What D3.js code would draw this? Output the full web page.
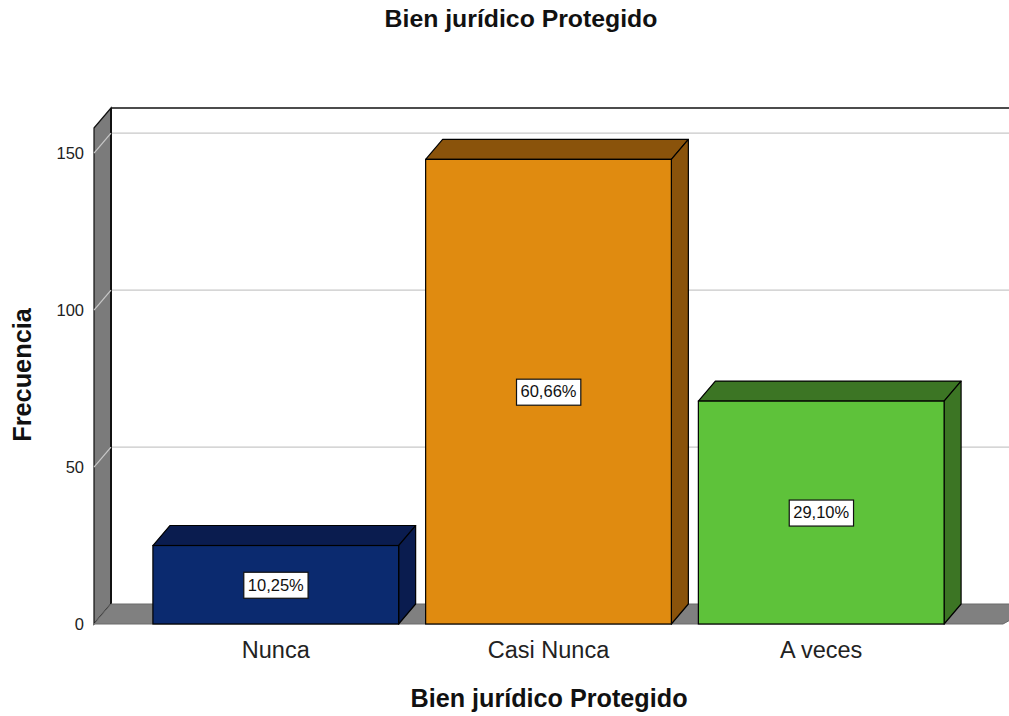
<!DOCTYPE html>
<html>
<head>
<meta charset="utf-8">
<script src="https://cdn.jsdelivr.net/npm/d3@7"></script>
<style>
  html, body { margin: 0; padding: 0; background: #fff; }
  svg { display: block; font-family: "Liberation Sans", Arial, sans-serif; }
</style>
</head>
<body>
<svg id="chart" width="1009" height="716"></svg>
<script>
const categories = ["Nunca", "Casi Nunca", "A veces"];
const counts = [25, 148, 71];
const percentLabels = ["10,25%", "60,66%", "29,10%"];
const yTicks = [0, 50, 100, 150];
const frontColors = ["#0b2a6f", "#e08b10", "#5ec23a"];
const darkColors = ["#0a1c4f", "#8a530b", "#3c7524"];
const chartTitle = "Bien jurídico Protegido";
const xTitle = "Bien jurídico Protegido";
const yTitle = "Frecuencia";

(function () {
const svg = d3.select("#chart");
const W = 1009;
const pLeft = 94, pRight = 1003, pBottom = 624, pTop = 128;
const dx = 17, dy = 20;
const yMax = 158;

const y = d3.scaleLinear().domain([0, yMax]).range([pBottom, pTop]);
const x = d3.scaleBand().domain(categories).range([pLeft, pRight])
  .paddingInner(0.099).paddingOuter(0.216);
const pts = a => a.map(p => p.join(",")).join(" ");

// back wall gridlines
yTicks.filter(t => t > 0).forEach(t => {
  svg.append("line").attr("x1", pLeft + dx).attr("x2", W + 20)
    .attr("y1", y(t) - dy).attr("y2", y(t) - dy)
    .attr("stroke", "#c8c8c8").attr("stroke-width", 1.2);
});

// back wall top line
svg.append("line").attr("x1", pLeft + dx).attr("x2", W + 20)
  .attr("y1", y(yMax) - dy).attr("y2", y(yMax) - dy)
  .attr("stroke", "#111").attr("stroke-width", 1.5);

// left wall
svg.append("polygon")
  .attr("points", pts([[pLeft, y(yMax)], [pLeft + dx, y(yMax) - dy], [pLeft + dx, pBottom - dy], [pLeft, pBottom]]))
  .attr("fill", "#7b7b7b").attr("stroke", "#111").attr("stroke-width", 1.2);
svg.append("line").attr("x1", pLeft + dx).attr("x2", pLeft + dx)
  .attr("y1", y(yMax) - dy).attr("y2", pBottom - dy)
  .attr("stroke", "#111").attr("stroke-width", 2);
yTicks.filter(t => t > 0).forEach(t => {
  svg.append("line").attr("x1", pLeft).attr("x2", pLeft + dx)
    .attr("y1", y(t)).attr("y2", y(t) - dy)
    .attr("stroke", "#c8c8c8").attr("stroke-width", 1.2);
});

// floor
svg.append("polygon")
  .attr("points", pts([[pLeft, pBottom], [pLeft + dx, pBottom - dy], [W + 30, pBottom - dy], [pRight, pBottom]]))
  .attr("fill", "#808080").attr("stroke", "#6a6a6a").attr("stroke-width", 1);

// y tick labels
yTicks.forEach(t => {
  svg.append("text").attr("x", 84).attr("y", y(t)).attr("dy", "0.35em")
    .attr("text-anchor", "end").attr("font-size", 16.5).attr("fill", "#222")
    .text(t);
});

// bars
const bw = x.bandwidth();
categories.forEach((c, i) => {
  const x0 = x(c), x1 = x0 + bw, yt = y(counts[i]), yb = y(0);
  const g = svg.append("g");
  g.append("polygon")
    .attr("points", pts([[x0, yt], [x0 + dx, yt - dy], [x1 + dx, yt - dy], [x1, yt]]))
    .attr("fill", darkColors[i]).attr("stroke", "#000").attr("stroke-width", 1.2).attr("stroke-linejoin", "round");
  g.append("polygon")
    .attr("points", pts([[x1, yt], [x1 + dx, yt - dy], [x1 + dx, yb - dy], [x1, yb]]))
    .attr("fill", darkColors[i]).attr("stroke", "#000").attr("stroke-width", 1.2).attr("stroke-linejoin", "round");
  g.append("rect").attr("x", x0).attr("y", yt).attr("width", bw).attr("height", yb - yt)
    .attr("fill", frontColors[i]).attr("stroke", "#000").attr("stroke-width", 1.2);

  const cx = x0 + bw / 2, cy = (yt + yb) / 2;
  const t = g.append("text").attr("x", cx).attr("y", cy).attr("dy", "0.35em")
    .attr("text-anchor", "middle").attr("font-size", 16.5).attr("fill", "#111")
    .text(percentLabels[i]);
  const bb = t.node().getBBox();
  g.insert("rect", "text").attr("x", bb.x - 4).attr("y", cy - 12.5).attr("width", bb.width + 8).attr("height", 26)
    .attr("fill", "#fff").attr("stroke", "#111").attr("stroke-width", 1.2);
});

// x category labels
categories.forEach(c => {
  svg.append("text").attr("x", x(c) + bw / 2).attr("y", 658)
    .attr("text-anchor", "middle").attr("font-size", 23.5).attr("fill", "#222")
    .text(c);
});

// titles
svg.append("text").attr("x", 521).attr("y", 27).attr("text-anchor", "middle")
  .attr("font-size", 24.8).attr("font-weight", "bold").attr("fill", "#111").text(chartTitle);
svg.append("text").attr("x", 549).attr("y", 707).attr("text-anchor", "middle")
  .attr("font-size", 25.2).attr("font-weight", "bold").attr("fill", "#111").text(xTitle);
svg.append("text").attr("transform", "translate(31,375) rotate(-90)")
  .attr("text-anchor", "middle").attr("font-size", 25.3).attr("font-weight", "bold")
  .attr("fill", "#111").text(yTitle);
})();
</script>
</body>
</html>
